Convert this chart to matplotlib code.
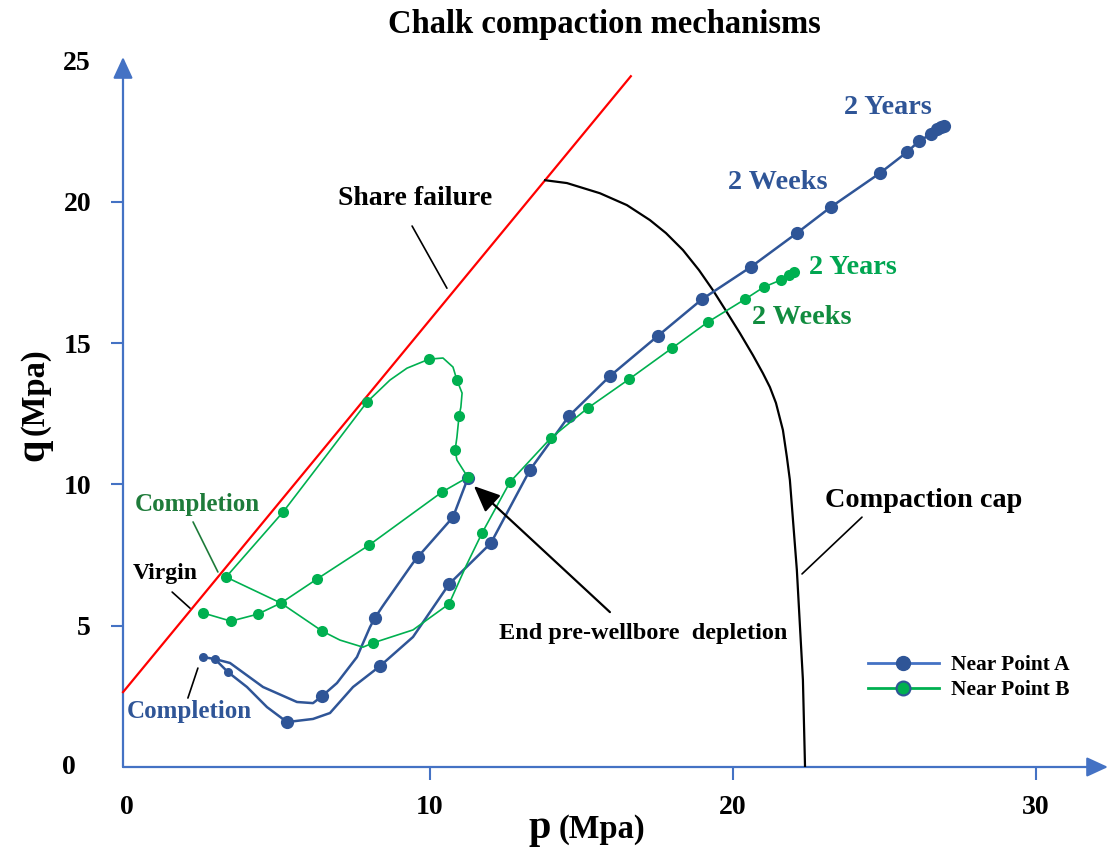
import matplotlib
matplotlib.use('Agg')
import matplotlib.pyplot as plt
from matplotlib.lines import Line2D

plt.rcParams['font.family'] = ['Liberation Serif', 'DejaVu Serif']
plt.rcParams['font.weight'] = 'bold'

# ---- data (p, q in MPa) ----
shear_p = [-0.13, 16.63]
shear_q = [2.65, 24.44]

cap_p = [13.80, 14.52, 15.61, 16.50, 17.26, 17.79, 18.35, 18.88, 19.34, 19.80, 20.23,
         20.66, 20.99, 21.22, 21.42, 21.65, 21.78, 21.88, 22.11, 22.31, 22.38]
cap_q = [20.76, 20.66, 20.30, 19.88, 19.35, 18.89, 18.29, 17.58, 16.87, 16.09, 15.35,
         14.57, 13.93, 13.44, 12.88, 11.92, 10.97, 10.15, 6.97, 3.08, 0.0]

# Near Point A: completion -> end of pre-wellbore depletion
a1_p = [2.51, 2.90, 3.40, 4.49, 5.61, 6.14, 6.44, 6.93, 7.59, 8.02, 8.18, 8.42, 8.51,
        9.44, 9.60, 10.76, 11.25]
a1_q = [3.89, 3.82, 3.68, 2.83, 2.30, 2.26, 2.51, 2.97, 3.89, 4.95, 5.27, 5.66, 5.80,
        7.22, 7.43, 8.84, 10.22]
# Near Point A: completion -> production (2 weeks .. 2 years)
a2_p = [2.90, 3.33, 3.96, 4.62, 5.28, 6.14, 6.70, 7.46, 8.35, 9.44, 10.63, 12.01, 13.30,
        14.59, 15.94, 17.52, 18.98, 20.59, 22.11, 23.23, 24.85, 25.74, 26.14, 26.53,
        26.73, 26.86, 26.96]
a2_q = [3.82, 3.36, 2.83, 2.12, 1.59, 1.70, 1.91, 2.83, 3.57, 4.60, 6.47, 7.92, 10.51,
        12.42, 13.83, 15.25, 16.55, 17.69, 18.89, 19.81, 21.01, 21.75, 22.14, 22.39,
        22.57, 22.64, 22.67]
a_small_p = [2.51, 2.90, 3.33]
a_small_q = [3.89, 3.82, 3.36]
a_mark_p = [6.44, 8.18, 9.60, 10.76, 11.25, 5.28, 8.35, 10.63, 12.01, 13.30, 14.59, 15.94,
            17.52, 18.98, 20.59, 22.11, 23.23, 24.85, 25.74, 26.14, 26.53, 26.73, 26.86, 26.96]
a_mark_q = [2.51, 5.27, 7.43, 8.84, 10.22, 1.59, 3.57, 6.47, 7.92, 10.51, 12.42, 13.83,
            15.25, 16.55, 17.69, 18.89, 19.81, 21.01, 21.75, 22.14, 22.39, 22.57, 22.64, 22.67]

# Near Point B: virgin -> end of pre-wellbore depletion
b1_p = [2.51, 3.43, 4.32, 5.08, 6.27, 7.99, 10.40, 11.25]
b1_q = [5.45, 5.16, 5.41, 5.80, 6.65, 7.85, 9.73, 10.25]
# Near Point B: loop up to the failure line and down to completion
b2_p = [11.25, 10.89, 10.83, 10.89, 10.96, 11.02, 11.06, 10.89, 10.76, 10.43, 9.97,
        9.24, 8.68, 7.92, 6.60, 5.15, 3.27]
b2_q = [10.25, 10.86, 11.21, 11.67, 12.42, 12.73, 13.23, 13.69, 14.15, 14.47, 14.43,
        14.11, 13.69, 12.91, 11.05, 9.02, 6.72]
# Near Point B: completion -> production
b3_p = [3.27, 5.08, 6.44, 7.03, 7.79, 8.12, 9.44, 10.63, 11.19, 11.72, 12.64, 13.99,
        15.21, 16.57, 17.99, 19.17, 20.40, 21.02, 21.58, 21.85, 22.01]
b3_q = [6.72, 5.80, 4.81, 4.49, 4.24, 4.39, 4.85, 5.77, 7.11, 8.28, 10.08, 11.64,
        12.70, 13.72, 14.82, 15.74, 16.55, 16.98, 17.23, 17.40, 17.51]
b_mark_p = [2.51, 3.43, 4.32, 5.08, 6.27, 7.99, 10.40, 11.25,
            10.83, 10.96, 10.89, 9.97, 7.92, 5.15, 3.27,
            6.44, 8.12, 10.63, 11.72, 12.64, 13.99, 15.21, 16.57, 17.99, 19.17,
            20.40, 21.02, 21.58, 21.85, 22.01]
b_mark_q = [5.45, 5.16, 5.41, 5.80, 6.65, 7.85, 9.73, 10.25,
            11.21, 12.42, 13.69, 14.43, 12.91, 9.02, 6.72,
            4.81, 4.39, 5.77, 8.28, 10.08, 11.64, 12.70, 13.72, 14.82, 15.74,
            16.55, 16.98, 17.23, 17.40, 17.51]

x_ticks = [0, 10, 20, 30]
y_ticks = [5, 10, 15, 20, 25]

# ---- colours ----
AXIS = '#4472C4'
BLUE = '#2F5597'
GREEN = '#00B050'
GREEN_DARK = '#1E7B3A'
RED = '#FF0000'

W, H = 1110, 852


def fx(px):
    return px / W


def fy(py):
    return 1 - py / H


fig = plt.figure(figsize=(W / 100, H / 100), dpi=100)
ax = fig.add_axes([fx(123), fy(767), (1108 - 123) / W, (767 - 57) / H])
ax.set_xlim(-0.132, 32.38)
ax.set_ylim(0, 25.12)
for s in ax.spines.values():
    s.set_visible(False)

# axes with arrows
arrow_kw = dict(arrowstyle='-|>,head_length=0.65,head_width=0.3', color=AXIS, lw=1.6,
                mutation_scale=20, shrinkA=0, shrinkB=0)
ax.annotate('', xy=(32.38, 0), xytext=(-0.132, 0), arrowprops=arrow_kw,
            annotation_clip=False, zorder=2)
ax.annotate('', xy=(-0.132, 25.12), xytext=(-0.132, 0), arrowprops=arrow_kw,
            annotation_clip=False, zorder=2)

ax.set_xticks(x_ticks)
ax.set_xticklabels([str(t) for t in x_ticks])
ax.set_yticks(y_ticks)
ax.set_yticklabels([str(t) for t in y_ticks])
ax.tick_params(axis='both', direction='out', length=9, width=1.5, color=AXIS,
               labelsize=20)
ax.tick_params(axis='x', pad=11)
ax.tick_params(axis='y', pad=14)
ax.xaxis.get_major_ticks()[0].tick1line.set_visible(False)
ax.yaxis.get_major_ticks()[-1].tick1line.set_visible(False)
fig.text(fx(76), fy(767), '0', ha='right', va='center', fontsize=20)

# shear failure line and compaction cap
ax.plot(shear_p, shear_q, color=RED, lw=1.6, zorder=2, clip_on=False)
ax.plot(cap_p, cap_q, color='black', lw=1.6, zorder=2, solid_joinstyle='round')

# Near Point A
line_kw = dict(solid_joinstyle='round', solid_capstyle='round')
ax.plot(a1_p, a1_q, color=BLUE, lw=1.8, zorder=3, **line_kw)
ax.plot(a2_p, a2_q, color=BLUE, lw=1.8, zorder=3, **line_kw)
ax.plot(a_mark_p, a_mark_q, 'o', ms=9.5, color=BLUE, mew=0, zorder=4)
ax.plot(a_small_p, a_small_q, 'o', ms=6.5, color=BLUE, mew=0, zorder=4)

# Near Point B
ax.plot(b1_p, b1_q, color=GREEN, lw=1.2, zorder=5, **line_kw)
ax.plot(b2_p, b2_q, color=GREEN, lw=1.2, zorder=5, **line_kw)
ax.plot(b3_p, b3_q, color=GREEN, lw=1.2, zorder=5, **line_kw)
ax.plot(b_mark_p, b_mark_q, 'o', ms=8, color=GREEN, mew=0, zorder=6)

# annotations
lead = dict(arrowstyle='-', lw=1.2, shrinkA=0, shrinkB=0)
ax.text(9.50, 20.13, 'Share failure', ha='center', va='center', fontsize=20)
ax.annotate('', xy=(10.56, 16.94), xytext=(9.41, 19.14), arrowprops=dict(color='black', **lead))

ax.text(26.30, 9.44, 'Compaction cap', ha='center', va='center', fontsize=20.3)
ax.annotate('', xy=(22.28, 6.83), xytext=(24.26, 8.84), arrowprops=dict(color='black', **lead))

ax.text(17.03, 4.74, 'End pre-wellbore  depletion', ha='center', va='center', fontsize=17.5)
ax.annotate('', xy=(11.45, 9.94), xytext=(15.94, 5.48),
            arrowprops=dict(arrowstyle='-|>,head_length=0.8,head_width=0.35', color='black',
                            lw=1.6, mutation_scale=20, shrinkA=0, shrinkB=0), zorder=7)

ax.text(2.31, 9.27, 'Completion', ha='center', va='center', fontsize=18, color=GREEN_DARK)
ax.annotate('', xy=(3.00, 6.90), xytext=(2.18, 8.67), arrowprops=dict(color=GREEN_DARK, **lead))

ax.text(1.25, 6.86, 'Virgin', ha='center', va='center', fontsize=17)
ax.annotate('', xy=(2.08, 5.62), xytext=(1.49, 6.19), arrowprops=dict(color='black', **lead))

ax.text(2.05, 1.98, 'Completion', ha='center', va='center', fontsize=18, color=BLUE)
ax.annotate('', xy=(2.34, 3.50), xytext=(2.01, 2.44), arrowprops=dict(color='black', **lead))

ax.text(25.12, 23.35, '2 Years', ha='center', va='center', fontsize=20.3, color=BLUE)
ax.text(21.49, 20.69, '2 Weeks', ha='center', va='center', fontsize=20.3, color=BLUE)
ax.text(23.96, 17.69, '2 Years', ha='center', va='center', fontsize=20.3, color='#00A651')
ax.text(22.28, 15.92, '2 Weeks', ha='center', va='center', fontsize=20.3, color='#118C3F')

# legend
handles = [
    Line2D([], [], color=AXIS, lw=2, marker='o', ms=10, mfc=BLUE, mec=BLUE),
    Line2D([], [], color=GREEN, lw=2, marker='o', ms=10, mfc=GREEN, mec=BLUE, mew=1.5),
]
fig.legend(handles, ['Near Point A', 'Near Point B'], loc='upper left',
           bbox_to_anchor=(fx(868), fy(655)), frameon=False, fontsize=15.4,
           handlelength=3.3, handletextpad=0.6, labelspacing=0.25,
           borderpad=0, borderaxespad=0)

# title and axis labels
fig.text(fx(604), fy(24), 'Chalk compaction mechanisms', ha='center', va='center',
         fontsize=23.5)
fig.text(fx(551), fy(838), 'p', ha='right', va='baseline', fontsize=29)
fig.text(fx(559), fy(838), '(Mpa)', ha='left', va='baseline', fontsize=23.5)
fig.text(fx(43), fy(461), 'q', ha='left', va='baseline', fontsize=29,
         rotation=90, rotation_mode='anchor')
fig.text(fx(43), fy(435), '(Mpa)', ha='left', va='baseline', fontsize=23.5,
         rotation=90, rotation_mode='anchor')

fig.savefig('out.png', dpi=100)
